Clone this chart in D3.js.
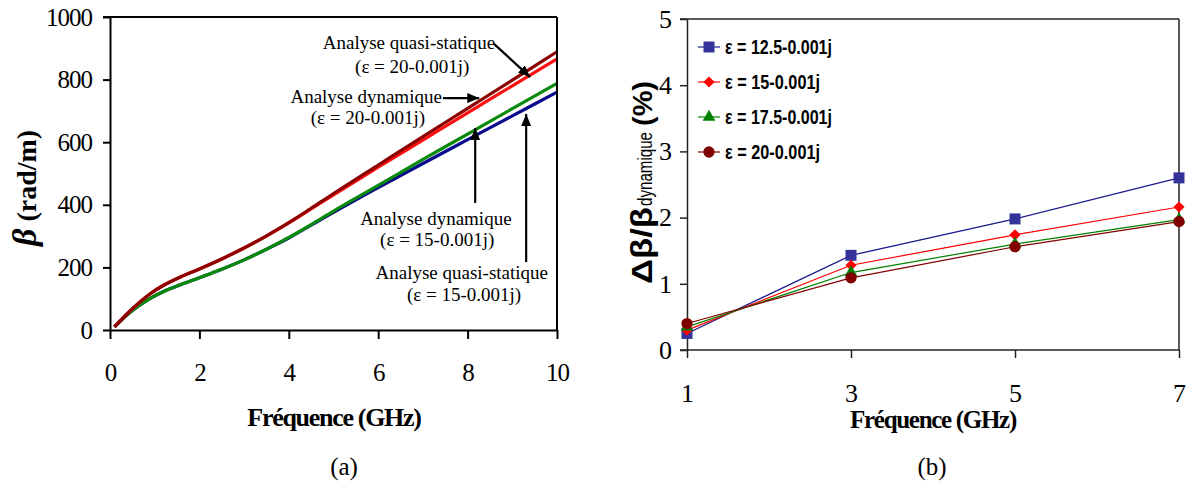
<!DOCTYPE html>
<html><head><meta charset="utf-8">
<script src="https://cdn.jsdelivr.net/npm/d3@7"></script>
<style>
body{margin:0;background:#fff;}
svg{display:block;}
</style></head>
<body>
<svg id="c" width="1190" height="486"></svg>
<script>
// ---------- data (a) ----------
const freqA = [0.1,0.5,0.9,1.2,1.6,2,2.5,3,3.5,4,4.5,5,6,7,8,9,10];
const quasi20 = [10,68,116,143,171,195,227,262,301,343,389,436,527,618,708,798,889];
const dyn20   = [10,68,116,143,171,195,227,262,300,342,387,432,520,607,694,780,866];
const dyn15   = [10,62,101,123,146,167,194,224,258,296,337,380,462,545,626,707,788];
const quasi15 = [10,62,101,123,146,167,194,224,258,294,335,376,455,532,608,684,760];
const ticksAx = [0,2,4,6,8,10];
const ticksAy = [0,200,400,600,800,1000];
// annotations (data coordinates)
const annoText = [
  {t:"Analyse quasi-statique", f:6.69, v:898},
  {t:"(ε = 20-0.001j)", f:6.76, v:821},
  {t:"Analyse dynamique", f:5.73, v:725},
  {t:"(ε = 20-0.001j)", f:5.77, v:658},
  {t:"Analyse dynamique", f:7.29, v:335},
  {t:"(ε = 15-0.001j)", f:7.32, v:268},
  {t:"Analyse quasi-statique", f:7.87, v:163},
  {t:"(ε = 15-0.001j)", f:7.92, v:93}
];
const annoArrows = [
  {f0:8.59,v0:914,f1:9.40,v1:808},
  {f0:7.45,v0:741,f1:8.26,v1:741},
  {f0:8.17,v0:406,f1:8.17,v1:645},
  {f0:9.31,v0:217,f1:9.31,v1:690}
];

// ---------- data (b) ----------
const freqB = [1,3,5,7];
const e125 = [0.25,1.43,1.98,2.60];
const e150 = [0.30,1.28,1.74,2.16];
const e175 = [0.35,1.17,1.60,1.97];
const e200 = [0.40,1.09,1.56,1.94];
const legendB = ["ε = 12.5-0.001j","ε = 15-0.001j","ε = 17.5-0.001j","ε = 20-0.001j"];
const ticksBx = [1,3,5,7];
const ticksBy = [0,1,2,3,4,5];

const svg = d3.select("#c");
const SERIF = "'Liberation Serif','Times New Roman',serif";
const SANS = "'Liberation Sans',Arial,sans-serif";

// ================= Chart (a) =================
const xA = d3.scaleLinear().domain([0,10]).range([110,557]);
const yA = d3.scaleLinear().domain([0,1000]).range([330,17]);
const gA = svg.append("g");

const seriesA = [
  {v:quasi15, c:"#0a0a8c"},
  {v:dyn15, c:"#0a8a0a"},
  {v:dyn20, c:"#ff1010"},
  {v:quasi20, c:"#8c0000"}
];
const lineA = d3.line().x(d=>xA(d[0])).y(d=>yA(d[1])).curve(d3.curveCatmullRom.alpha(0.5));
seriesA.forEach(s=>{
  gA.append("path").attr("d", lineA(freqA.map((f,i)=>[f,s.v[i]])))
    .attr("fill","none").attr("stroke",s.c).attr("stroke-width",3.2).attr("stroke-linejoin","round");
});

// frame
gA.append("line").attr("x1",xA(0)-7).attr("x2",xA(10)).attr("y1",yA(1000)).attr("y2",yA(1000)).attr("stroke","#000").attr("stroke-width",2);
gA.append("line").attr("x1",xA(10)).attr("x2",xA(10)).attr("y1",yA(1000)).attr("y2",yA(0)).attr("stroke","#000").attr("stroke-width",2);

const axAx = gA.append("g").attr("transform",`translate(0,${yA(0)})`)
  .call(d3.axisBottom(xA).tickValues(ticksAx).tickSize(9).tickPadding(24).tickSizeOuter(0).tickFormat(d3.format("d")));
const axAy = gA.append("g").attr("transform",`translate(${xA(0)},0)`)
  .call(d3.axisLeft(yA).tickValues(ticksAy).tickSize(7).tickPadding(11).tickSizeOuter(0).tickFormat(d3.format("d")));
[axAx,axAy].forEach(a=>{
  a.selectAll("path,line").attr("stroke","#000").attr("stroke-width",2);
  a.selectAll("text").attr("font-family",SERIF).attr("font-size",25).attr("letter-spacing","-1px").attr("fill","#000");
});

// axis titles
svg.append("text").attr("x",334).attr("y",426).attr("text-anchor","middle")
  .attr("font-family",SERIF).attr("font-weight","bold").attr("font-size",26).attr("letter-spacing","-1.3px")
  .text("Fréquence (GHz)");
const ytA = svg.append("text").attr("transform","translate(36,246) rotate(-90)")
  .attr("font-family",SERIF).attr("font-weight","bold").attr("font-size",28);
ytA.append("tspan").attr("font-style","italic").attr("font-size",34).text("β");
ytA.append("tspan").text(" (rad/m)");

// annotations
const defs = svg.append("defs");
defs.append("marker").attr("id","ah").attr("viewBox","0 0 12 10").attr("refX",12).attr("refY",5)
  .attr("markerWidth",12).attr("markerHeight",10).attr("markerUnits","userSpaceOnUse").attr("orient","auto")
  .append("path").attr("d","M0,0 L12,5 L0,10 Z").attr("fill","#000");
annoArrows.forEach(a=>{
  gA.append("line").attr("x1",xA(a.f0)).attr("y1",yA(a.v0)).attr("x2",xA(a.f1)).attr("y2",yA(a.v1))
    .attr("stroke","#000").attr("stroke-width",2.2).attr("marker-end","url(#ah)");
});
annoText.forEach(a=>{
  gA.append("text").attr("x",xA(a.f)).attr("y",yA(a.v)).attr("text-anchor","middle")
    .attr("font-family",SERIF).attr("font-size",19).attr("fill","#000").text(a.t);
});
svg.append("text").attr("x",344).attr("y",475).attr("text-anchor","middle")
  .attr("font-family",SERIF).attr("font-size",25).text("(a)");

// ================= Chart (b) =================
const xB = d3.scaleLinear().domain([1,7]).range([687,1179]);
const yB = d3.scaleLinear().domain([0,5]).range([350,19]);
const gB = svg.append("g");

gB.append("line").attr("x1",xB(1)-7).attr("x2",xB(7)).attr("y1",yB(5)).attr("y2",yB(5)).attr("stroke","#222").attr("stroke-width",1.5);
gB.append("line").attr("x1",xB(7)).attr("x2",xB(7)).attr("y1",yB(5)).attr("y2",yB(0)).attr("stroke","#222").attr("stroke-width",1.5);

const axBx = gB.append("g").attr("transform",`translate(0,${yB(0)})`)
  .call(d3.axisBottom(xB).tickValues(ticksBx).tickSize(8).tickPadding(26).tickSizeOuter(0).tickFormat(d3.format("d")));
const axBy = gB.append("g").attr("transform",`translate(${xB(1)},0)`)
  .call(d3.axisLeft(yB).tickValues(ticksBy).tickSize(7).tickPadding(8).tickSizeOuter(0).tickFormat(d3.format("d")));
axBx.select(".domain").attr("d",`M${xB(1)-7},0H${xB(7)}`);
[axBx,axBy].forEach(a=>{
  a.selectAll("path,line").attr("stroke","#222").attr("stroke-width",1.5);
  a.selectAll("text").attr("font-family",SERIF).attr("font-size",26).attr("fill","#000");
});

const sq = d3.symbol().type(d3.symbolSquare).size(121);
const dia = d3.symbol().type(d3.symbolSquare).size(62);
const tri = d3.symbol().type(d3.symbolTriangle).size(70);
const cir = d3.symbol().type(d3.symbolCircle).size(100);
const seriesB = [
  {v:e125, line:"#1a1a8c", fill:"#333399", sym:sq, rot:0},
  {v:e150, line:"#ff0000", fill:"#ff0000", sym:dia, rot:45},
  {v:e175, line:"#008000", fill:"#008000", sym:tri, rot:0},
  {v:e200, line:"#800000", fill:"#800000", sym:cir, rot:0}
];
const lineB = d3.line().x(d=>xB(d[0])).y(d=>yB(d[1]));
seriesB.forEach(s=>{
  gB.append("path").attr("d",lineB(freqB.map((f,i)=>[f,s.v[i]])))
    .attr("fill","none").attr("stroke",s.line).attr("stroke-width",1.2);
});
seriesB.forEach(s=>{
  freqB.forEach((f,i)=>{
    gB.append("path").attr("d",s.sym()).attr("fill",s.fill)
      .attr("transform",`translate(${xB(f)},${yB(s.v[i])}) rotate(${s.rot})`);
  });
});

// legend
const legY = [47,82,117,152];
seriesB.forEach((s,i)=>{
  const y = legY[i];
  gB.append("line").attr("x1",698).attr("x2",720).attr("y1",y).attr("y2",y).attr("stroke",s.line).attr("stroke-width",1.2);
  gB.append("path").attr("d",s.sym()).attr("fill",s.fill).attr("transform",`translate(709,${y}) rotate(${s.rot})`);
  gB.append("text").attr("x",725).attr("y",y+7).attr("font-family",SANS).attr("font-weight","bold")
    .attr("font-size",20).attr("lengthAdjust","spacingAndGlyphs").text(legendB[i])
    .attr("textLength", i===0||i===2 ? 107 : 95);
});

// axis titles
svg.append("text").attr("x",933).attr("y",428).attr("text-anchor","middle")
  .attr("font-family",SERIF).attr("font-weight","bold").attr("font-size",25).attr("letter-spacing","-1.3px")
  .text("Fréquence (GHz)");
const ytB = svg.append("g").attr("transform","translate(652,284) rotate(-90)");
ytB.append("text").attr("x",0).attr("y",0).attr("font-family",SANS).attr("font-weight","bold").attr("font-size",30)
  .attr("textLength",77).attr("lengthAdjust","spacingAndGlyphs").text("Δβ/β");
ytB.append("text").attr("x",78).attr("y",0).attr("font-family",SANS).attr("font-size",21)
  .attr("textLength",74).attr("lengthAdjust","spacingAndGlyphs").text("dynamique");
ytB.append("text").attr("x",158).attr("y",0).attr("font-family",SANS).attr("font-weight","bold").attr("font-size",28)
  .attr("textLength",45).attr("lengthAdjust","spacingAndGlyphs").text("(%)");
svg.append("text").attr("x",932).attr("y",475).attr("text-anchor","middle")
  .attr("font-family",SERIF).attr("font-size",25).text("(b)");
</script>
</body></html>
